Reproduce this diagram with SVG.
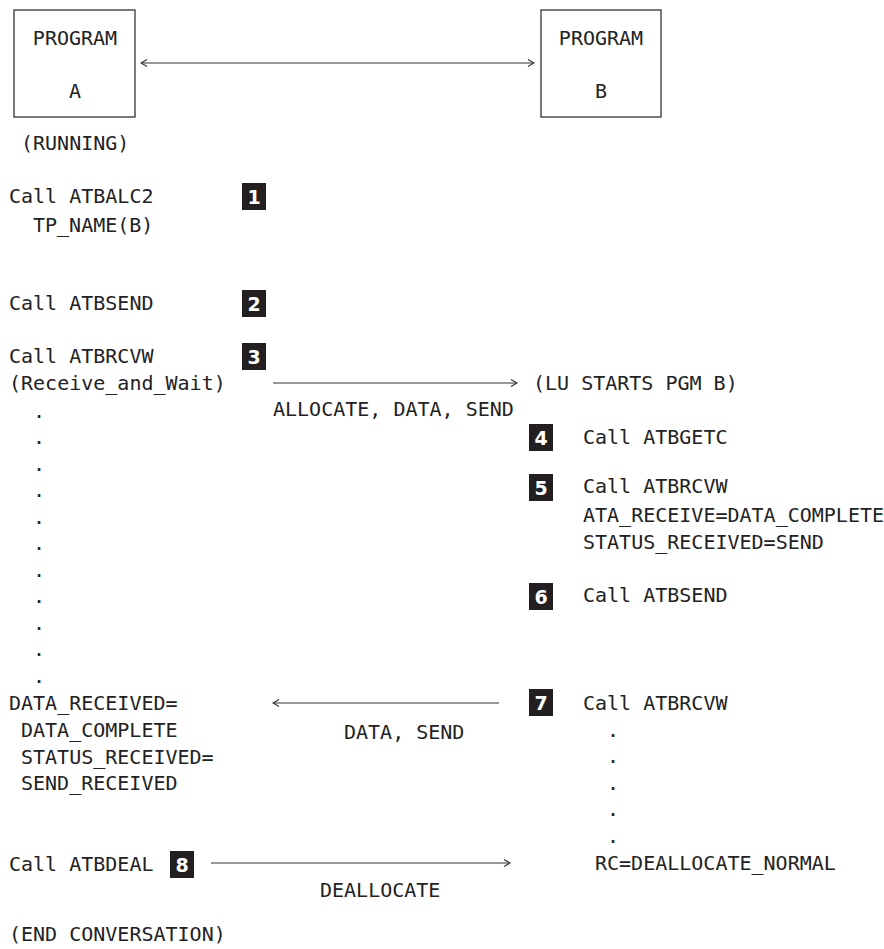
<svg xmlns="http://www.w3.org/2000/svg" width="884" height="949" viewBox="0 0 884 949">
<style>
text{font-family:"DejaVu Sans Mono","Liberation Mono",monospace;font-size:20px;fill:#222}
.box{fill:none;stroke:#333;stroke-width:1.3}
.conn{stroke:#333;stroke-width:1.2;fill:none}
.badge rect{fill:#231f20}
.badge text{fill:#fff;font-weight:bold;text-anchor:middle;font-family:"DejaVu Sans","Liberation Sans",sans-serif;font-size:19px}
.c{text-anchor:middle}
</style>
<defs>
<marker id="ah" viewBox="0 0 10 10" refX="9" refY="5" markerWidth="10" markerHeight="10" markerUnits="userSpaceOnUse" orient="auto-start-reverse">
<path d="M3,1.5 L9,5 L3,8.5" fill="none" stroke="#333" stroke-width="1.2"/>
</marker>
</defs>
<g id="programA">
<rect class="box" x="14" y="10" width="121" height="107"/>
<text class="c" x="75" y="45">PROGRAM</text>
<text class="c" x="75" y="98">A</text>
</g>
<g id="programB">
<rect class="box" x="541" y="10" width="120" height="107"/>
<text class="c" x="601" y="45">PROGRAM</text>
<text class="c" x="601" y="98">B</text>
</g>
<g id="connectors">
<line class="conn" x1="141" y1="63" x2="534" y2="63" marker-start="url(#ah)" marker-end="url(#ah)"/>
<line class="conn" x1="273" y1="383" x2="517" y2="383" marker-end="url(#ah)"/>
<line class="conn" x1="499" y1="703" x2="273" y2="703" marker-end="url(#ah)"/>
<line class="conn" x1="211" y1="863" x2="510" y2="863" marker-end="url(#ah)"/>
</g>
<g id="labels">
<text x="273" y="416">ALLOCATE, DATA, SEND</text>
<text x="344" y="739">DATA, SEND</text>
<text x="320" y="897">DEALLOCATE</text>
</g>
<g id="left">
<text x="21" y="150">(RUNNING)</text>
<text x="9" y="203">Call ATBALC2</text>
<text x="33" y="232">TP_NAME(B)</text>
<text x="9" y="310">Call ATBSEND</text>
<text x="9" y="363">Call ATBRCVW</text>
<text x="9" y="390">(Receive_and_Wait)</text>
<text x="33" y="417.5">.</text>
<text x="33" y="444">.</text>
<text x="33" y="470.5">.</text>
<text x="33" y="497">.</text>
<text x="33" y="523.5">.</text>
<text x="33" y="550">.</text>
<text x="33" y="576.5">.</text>
<text x="33" y="603">.</text>
<text x="33" y="629.5">.</text>
<text x="33" y="656">.</text>
<text x="33" y="682.5">.</text>
<text x="9" y="710">DATA_RECEIVED=</text>
<text x="21" y="737">DATA_COMPLETE</text>
<text x="21" y="763.5">STATUS_RECEIVED=</text>
<text x="21" y="790">SEND_RECEIVED</text>
<text x="9" y="871">Call ATBDEAL</text>
<text x="9" y="941">(END CONVERSATION)</text>
</g>
<g id="right">
<text x="533" y="390">(LU STARTS PGM B)</text>
<text x="583" y="444">Call ATBGETC</text>
<text x="583" y="493">Call ATBRCVW</text>
<text x="583" y="522">ATA_RECEIVE=DATA_COMPLETE</text>
<text x="583" y="549">STATUS_RECEIVED=SEND</text>
<text x="583" y="602">Call ATBSEND</text>
<text x="583" y="710">Call ATBRCVW</text>
<text x="607" y="736.5">.</text>
<text x="607" y="763">.</text>
<text x="607" y="789.5">.</text>
<text x="607" y="816">.</text>
<text x="607" y="842.5">.</text>
<text x="595" y="870">RC=DEALLOCATE_NORMAL</text>
</g>
<g id="badge1" class="badge"><rect x="242" y="183" width="24" height="27"/><text x="254" y="204">1</text></g>
<g id="badge2" class="badge"><rect x="242" y="290" width="24" height="27"/><text x="254" y="311">2</text></g>
<g id="badge3" class="badge"><rect x="242" y="343" width="24" height="27"/><text x="254" y="364">3</text></g>
<g id="badge4" class="badge"><rect x="529" y="424" width="24" height="27"/><text x="541" y="445">4</text></g>
<g id="badge5" class="badge"><rect x="529" y="474" width="24" height="27"/><text x="541" y="495">5</text></g>
<g id="badge6" class="badge"><rect x="529" y="583" width="24" height="27"/><text x="541" y="604">6</text></g>
<g id="badge7" class="badge"><rect x="529" y="689" width="24" height="27"/><text x="541" y="710">7</text></g>
<g id="badge8" class="badge"><rect x="170" y="851" width="24" height="27"/><text x="182" y="872">8</text></g>
</svg>
